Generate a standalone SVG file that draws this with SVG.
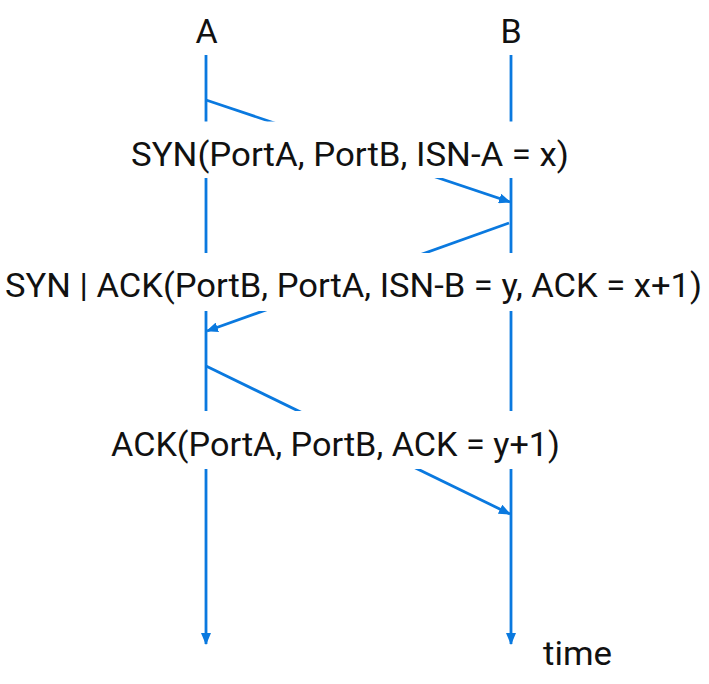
<svg xmlns="http://www.w3.org/2000/svg" width="709" height="684" viewBox="0 0 709 684">
  <style>
    .line { stroke: #0A79DF; stroke-width: 2.8; fill: none; }
    .txt { font-family: Roboto, "Noto Sans", "Liberation Sans", sans-serif; font-size: 34px; fill: #111; }
    .mask { fill: #fff; }
  </style>
  <defs>
    <marker id="arr" markerUnits="userSpaceOnUse" markerWidth="12" markerHeight="10" viewBox="0 0 12 10" refX="11" refY="5" orient="auto">
      <path d="M0,0 L12,5 L0,10 Z" fill="#0A79DF"/>
    </marker>
  </defs>
  <rect width="709" height="684" fill="#fff"/>

  <g id="lifeline-A">
    <text class="txt" x="206.5" y="43" text-anchor="middle">A</text>
    <line class="line" x1="206" y1="55" x2="206" y2="644" marker-end="url(#arr)"/>
  </g>
  <g id="lifeline-B">
    <text class="txt" x="511" y="43" text-anchor="middle">B</text>
    <line class="line" x1="511" y1="55" x2="511" y2="644" marker-end="url(#arr)"/>
  </g>
  <g id="time-label">
    <text class="txt" x="543" y="665" textLength="69" lengthAdjust="spacingAndGlyphs">time</text>
  </g>

  <g id="connectors">
    <line class="line" x1="206" y1="100" x2="510" y2="202" marker-end="url(#arr)"/>
    <line class="line" x1="509" y1="223" x2="207" y2="331" marker-end="url(#arr)"/>
    <line class="line" x1="206" y1="366" x2="510" y2="514" marker-end="url(#arr)"/>
  </g>

  <g id="labels">
    <g id="label-syn">
      <rect class="mask" x="122" y="121.5" width="456" height="56.5"/>
      <text class="txt" x="131" y="165.5" textLength="438" lengthAdjust="spacingAndGlyphs">SYN(PortA, PortB, ISN-A = x)</text>
    </g>
    <g id="label-synack">
      <rect class="mask" x="0" y="253" width="709" height="58"/>
      <text class="txt" x="5" y="297" textLength="697" lengthAdjust="spacingAndGlyphs">SYN | ACK(PortB, PortA, ISN-B = y, ACK = x+1)</text>
    </g>
    <g id="label-ack">
      <rect class="mask" x="102" y="411" width="468" height="58"/>
      <text class="txt" x="111" y="455.5" textLength="449" lengthAdjust="spacingAndGlyphs">ACK(PortA, PortB, ACK = y+1)</text>
    </g>
  </g>
</svg>
